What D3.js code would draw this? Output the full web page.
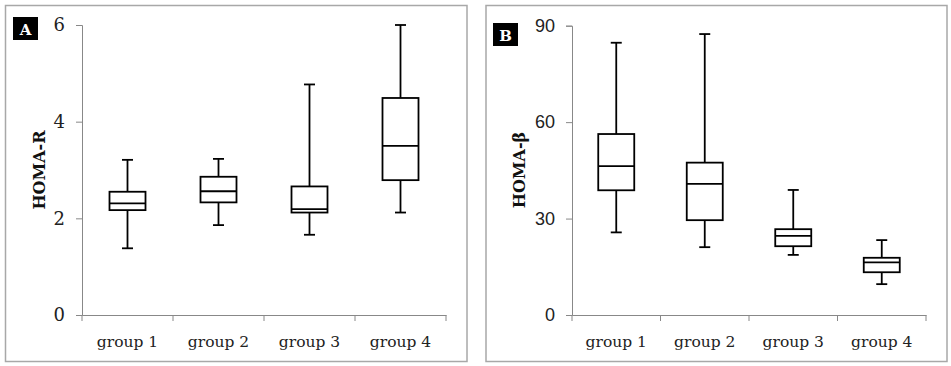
<!DOCTYPE html>
<html><head><meta charset="utf-8">
<script src="https://cdn.jsdelivr.net/npm/d3@7"></script>
<style>body{margin:0;background:#fff;} svg{display:block;}</style>
</head><body>
<svg id="chart" width="951" height="366"></svg>
<script>
const categories = ["group 1", "group 2", "group 3", "group 4"];
// [min, q1, median, q3, max]
const homaR = [
  [1.38, 2.17, 2.31, 2.55, 3.21],
  [1.86, 2.33, 2.56, 2.86, 3.23],
  [1.66, 2.12, 2.19, 2.66, 4.77],
  [2.12, 2.79, 3.50, 4.49, 6.00]
];
const homaB = [
  [25.7, 38.8, 46.3, 56.3, 84.7],
  [21.1, 29.5, 40.8, 47.4, 87.4],
  [18.7, 21.4, 24.6, 26.7, 38.9],
  [9.6, 13.3, 16.4, 17.8, 23.3]
];
const ticksR = [0, 2, 4, 6];
const ticksB = [0, 30, 60, 90];

const svg = d3.select("#chart");

function panel(opt) {
  const g = svg.append("g");
  g.append("rect").attr("x", opt.bx).attr("y", 5.5).attr("width", opt.bw).attr("height", 356)
    .attr("fill", "#fff").attr("stroke", "#a8a8a8").attr("stroke-width", 1.5);
  g.append("rect").attr("x", opt.lx).attr("y", opt.ly).attr("width", 25).attr("height", 23).attr("fill", "#000");
  g.append("text").attr("x", opt.lx + 12.5).attr("y", opt.ly + 17.5).attr("text-anchor", "middle")
    .attr("fill", "#fff").attr("font-family", "DejaVu Serif").attr("font-weight", "bold").attr("font-size", 15)
    .text(opt.letter);

  const x = d3.scaleBand().domain(categories).range([opt.x0, opt.x1]);
  const y = d3.scaleLinear().domain([0, opt.max]).range([315, opt.yTop]);

  const ya = g.append("g").attr("transform", `translate(${opt.x0},0)`)
    .call(d3.axisLeft(y).tickValues(opt.ticks).tickFormat(d3.format("d")).tickSize(6).tickPadding(opt.pad));
  ya.select(".domain").attr("stroke", "#888");
  ya.selectAll(".tick line").attr("stroke", "#888");
  ya.selectAll(".tick text").attr("font-family", opt.tickFont).attr("font-size", 18).attr("fill", "#222");

  const xa = g.append("g").attr("transform", "translate(0,315)")
    .call(d3.axisBottom(x).tickSize(0).tickPadding(21));
  xa.select(".domain").attr("stroke", "#888");
  xa.selectAll(".tick text").attr("font-family", "DejaVu Serif").attr("font-size", 15.5).attr("fill", "#222");
  // boundary ticks
  const bounds = categories.map(c => x(c)).concat([x.range()[1]]);
  g.append("g").selectAll("line").data(bounds).join("line")
    .attr("x1", d => d).attr("x2", d => d).attr("y1", 315).attr("y2", 321)
    .attr("stroke", "#888");

  g.append("text").attr("transform", `translate(${opt.labX},170) rotate(-90)`)
    .attr("text-anchor", "middle").attr("dominant-baseline", "central")
    .attr("font-family", "DejaVu Serif").attr("font-weight", "bold").attr("font-size", 16)
    .attr("fill", "#111").text(opt.label);

  const bw = 36, cw = 11;
  const boxes = g.append("g").selectAll("g").data(opt.data).join("g")
    .attr("transform", (d, i) => `translate(${x(categories[i]) + x.bandwidth() / 2},0)`);
  boxes.append("line").attr("x1", 0).attr("x2", 0).attr("y1", d => y(d[4])).attr("y2", d => y(d[0]))
    .attr("stroke", "#000").attr("stroke-width", 1.8);
  boxes.append("line").attr("x1", -cw / 2).attr("x2", cw / 2).attr("y1", d => y(d[4])).attr("y2", d => y(d[4]))
    .attr("stroke", "#000").attr("stroke-width", 1.8);
  boxes.append("line").attr("x1", -cw / 2).attr("x2", cw / 2).attr("y1", d => y(d[0])).attr("y2", d => y(d[0]))
    .attr("stroke", "#000").attr("stroke-width", 1.8);
  boxes.append("rect").attr("x", -bw / 2).attr("width", bw).attr("y", d => y(d[3])).attr("height", d => y(d[1]) - y(d[3]))
    .attr("fill", "#fff").attr("stroke", "#000").attr("stroke-width", 1.8);
  boxes.append("line").attr("x1", -bw / 2).attr("x2", bw / 2).attr("y1", d => y(d[2])).attr("y2", d => y(d[2]))
    .attr("stroke", "#000").attr("stroke-width", 1.8);
}

panel({ bx: 5.5, bw: 461.5, lx: 13, ly: 17, letter: "A", x0: 82, x1: 446, yTop: 25, max: 6, pad: 11,
  ticks: ticksR, tickFont: "DejaVu Serif", label: "HOMA-R", labX: 39, data: homaR });
panel({ bx: 486, bw: 461, lx: 493, ly: 23, letter: "B", x0: 572, x1: 926, yTop: 25.7, max: 90, pad: 11,
  ticks: ticksB, tickFont: "Liberation Sans", label: "HOMA-β", labX: 519, data: homaB });
</script>
</body></html>
